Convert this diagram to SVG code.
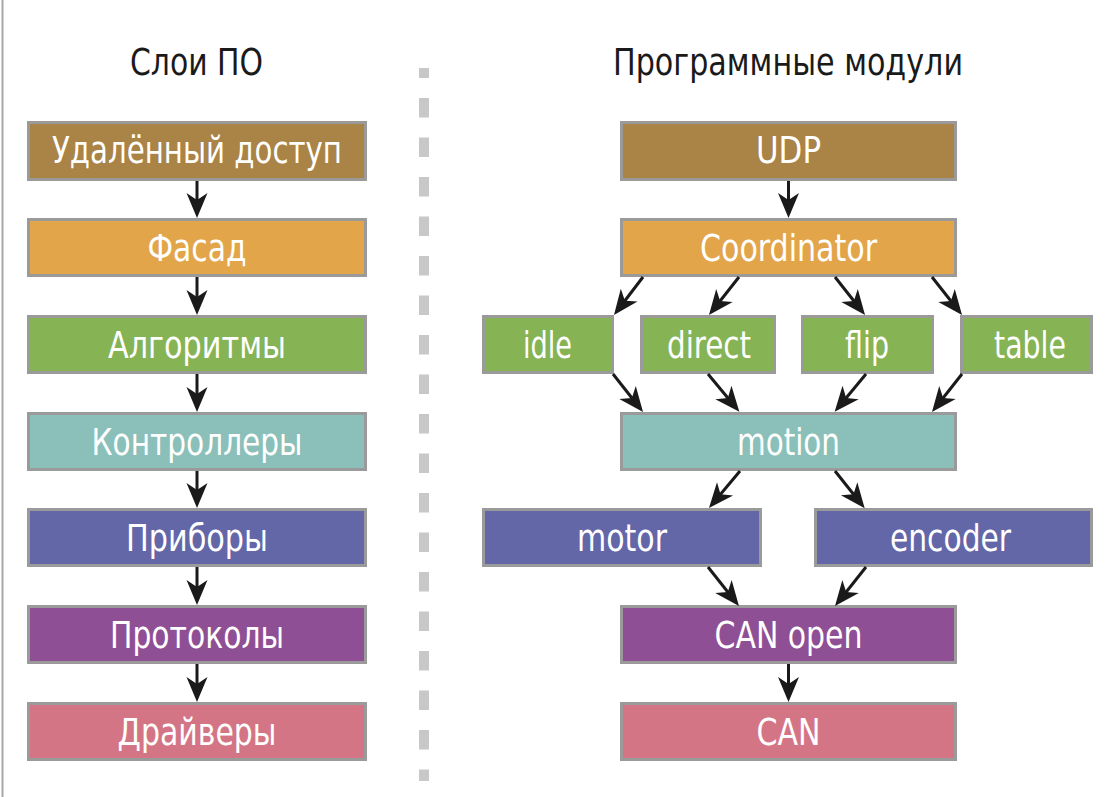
<svg xmlns="http://www.w3.org/2000/svg" width="1113" height="797" viewBox="0 0 1113 797">
<defs>
<style>
.box{stroke:#9a9a9a;stroke-width:3}
.lbl{font-family:"Liberation Sans Narrow","DejaVu Sans Condensed","Liberation Sans",sans-serif;font-size:38px;fill:#ffffff;text-anchor:middle}
.ttl{font-family:"Liberation Sans Narrow","DejaVu Sans Condensed","Liberation Sans",sans-serif;font-size:38px;fill:#1a1a1a;text-anchor:middle}
.c1{fill:#aa8346}.c2{fill:#e2a54a}.c3{fill:#86b454}.c4{fill:#8ac0b9}.c5{fill:#6367a8}.c6{fill:#8f4f94}.c7{fill:#d47585}
.edge{stroke:#1a1a1a;stroke-width:3;fill:none;marker-end:url(#ah)}
</style>
<marker id="ah" markerUnits="userSpaceOnUse" markerWidth="30" markerHeight="24" viewBox="0 -12 26 24" refX="8" refY="0" orient="auto">
<path d="M0,-10.5 L25,0 L0,10.5 L7,0 Z" fill="#1a1a1a"/>
</marker>
</defs>
<rect width="1113" height="797" fill="#ffffff"/>
<line x1="2.5" y1="0" x2="2.5" y2="797" stroke="#a8a8a8" stroke-width="2"/>
<line x1="424" y1="68" x2="424" y2="781" stroke="#c8c8c8" stroke-width="10" stroke-dasharray="19.5 20" stroke-dashoffset="9.5"/>
<text class="ttl" x="196.5" y="75" textLength="133" lengthAdjust="spacingAndGlyphs">Слои ПО</text>
<text class="ttl" x="788" y="75" textLength="350" lengthAdjust="spacingAndGlyphs">Программные модули</text>

<g id="L1"><rect class="box c1" x="28.5" y="122.5" width="337" height="57"/><text class="lbl" x="197" y="163" textLength="290" lengthAdjust="spacingAndGlyphs">Удалённый доступ</text></g>
<g id="L2"><rect class="box c2" x="28.5" y="219.5" width="337" height="56"/><text class="lbl" x="197" y="260.5" textLength="99" lengthAdjust="spacingAndGlyphs">Фасад</text></g>
<g id="L3"><rect class="box c3" x="28.5" y="316.5" width="337" height="56"/><text class="lbl" x="197" y="357.5" textLength="178" lengthAdjust="spacingAndGlyphs">Алгоритмы</text></g>
<g id="L4"><rect class="box c4" x="28.5" y="413.5" width="337" height="56"/><text class="lbl" x="197" y="454.5" textLength="211" lengthAdjust="spacingAndGlyphs">Контроллеры</text></g>
<g id="L5"><rect class="box c5" x="28.5" y="509.5" width="337" height="56"/><text class="lbl" x="197" y="550.5" textLength="142" lengthAdjust="spacingAndGlyphs">Приборы</text></g>
<g id="L6"><rect class="box c6" x="28.5" y="606.5" width="337" height="56"/><text class="lbl" x="197" y="647.5" textLength="174" lengthAdjust="spacingAndGlyphs">Протоколы</text></g>
<g id="L7"><rect class="box c7" x="28.5" y="703.5" width="337" height="56"/><text class="lbl" x="197" y="744.5" textLength="159" lengthAdjust="spacingAndGlyphs">Драйверы</text></g>

<g id="UDP"><rect class="box c1" x="621.5" y="122.5" width="334" height="57"/><text class="lbl" x="788.5" y="163" textLength="65" lengthAdjust="spacingAndGlyphs">UDP</text></g>
<g id="Coordinator"><rect class="box c2" x="621.5" y="219.5" width="334" height="56"/><text class="lbl" x="788.5" y="260.5" textLength="177" lengthAdjust="spacingAndGlyphs">Coordinator</text></g>
<g id="idle"><rect class="box c3" x="483.5" y="316.5" width="129" height="56"/><text class="lbl" x="547.5" y="357.5" textLength="49" lengthAdjust="spacingAndGlyphs">idle</text></g>
<g id="direct"><rect class="box c3" x="641.5" y="316.5" width="133" height="56"/><text class="lbl" x="709" y="357.5" textLength="84" lengthAdjust="spacingAndGlyphs">direct</text></g>
<g id="flip"><rect class="box c3" x="802.5" y="316.5" width="130" height="56"/><text class="lbl" x="867" y="357.5" textLength="44" lengthAdjust="spacingAndGlyphs">flip</text></g>
<g id="table"><rect class="box c3" x="961.5" y="316.5" width="130" height="56"/><text class="lbl" x="1030" y="357.5" textLength="72" lengthAdjust="spacingAndGlyphs">table</text></g>
<g id="motion"><rect class="box c4" x="621.5" y="413.5" width="334" height="56"/><text class="lbl" x="788.5" y="454.5" textLength="103" lengthAdjust="spacingAndGlyphs">motion</text></g>
<g id="motor"><rect class="box c5" x="483.5" y="509.5" width="277" height="56"/><text class="lbl" x="622" y="550.5" textLength="90" lengthAdjust="spacingAndGlyphs">motor</text></g>
<g id="encoder"><rect class="box c5" x="815.5" y="509.5" width="276" height="56"/><text class="lbl" x="950.5" y="550.5" textLength="121" lengthAdjust="spacingAndGlyphs">encoder</text></g>
<g id="CANopen"><rect class="box c6" x="621.5" y="606.5" width="334" height="56"/><text class="lbl" x="788.5" y="647.5" textLength="148" lengthAdjust="spacingAndGlyphs">CAN open</text></g>
<g id="CAN"><rect class="box c7" x="621.5" y="703.5" width="334" height="56"/><text class="lbl" x="788.5" y="744.5" textLength="64" lengthAdjust="spacingAndGlyphs">CAN</text></g>

<g id="connectors">
<line class="edge" x1="197" y1="181" x2="197" y2="201"/>
<line class="edge" x1="197" y1="277" x2="197" y2="298"/>
<line class="edge" x1="197" y1="374" x2="197" y2="395"/>
<line class="edge" x1="197" y1="471" x2="197" y2="491"/>
<line class="edge" x1="197" y1="567" x2="197" y2="588"/>
<line class="edge" x1="197" y1="664" x2="197" y2="685"/>
<line class="edge" x1="788.5" y1="181" x2="788.5" y2="201"/>
<line class="edge" x1="643" y1="277" x2="624.3" y2="301.5"/>
<line class="edge" x1="739" y1="277" x2="719.5" y2="301.7"/>
<line class="edge" x1="835" y1="277" x2="854.5" y2="301.7"/>
<line class="edge" x1="932" y1="277" x2="951.5" y2="301.7"/>
<line class="edge" x1="613" y1="374" x2="632.5" y2="398.7"/>
<line class="edge" x1="708" y1="374" x2="728.5" y2="398.7"/>
<line class="edge" x1="866" y1="374" x2="845.5" y2="398.7"/>
<line class="edge" x1="962" y1="374" x2="942.5" y2="398.7"/>
<line class="edge" x1="740" y1="471" x2="719.9" y2="495"/>
<line class="edge" x1="835" y1="471" x2="854.1" y2="495"/>
<line class="edge" x1="708" y1="567" x2="728.4" y2="592.7"/>
<line class="edge" x1="866" y1="567" x2="845.6" y2="592.7"/>
<line class="edge" x1="788.5" y1="664" x2="788.5" y2="685"/>
</g>
</svg>
